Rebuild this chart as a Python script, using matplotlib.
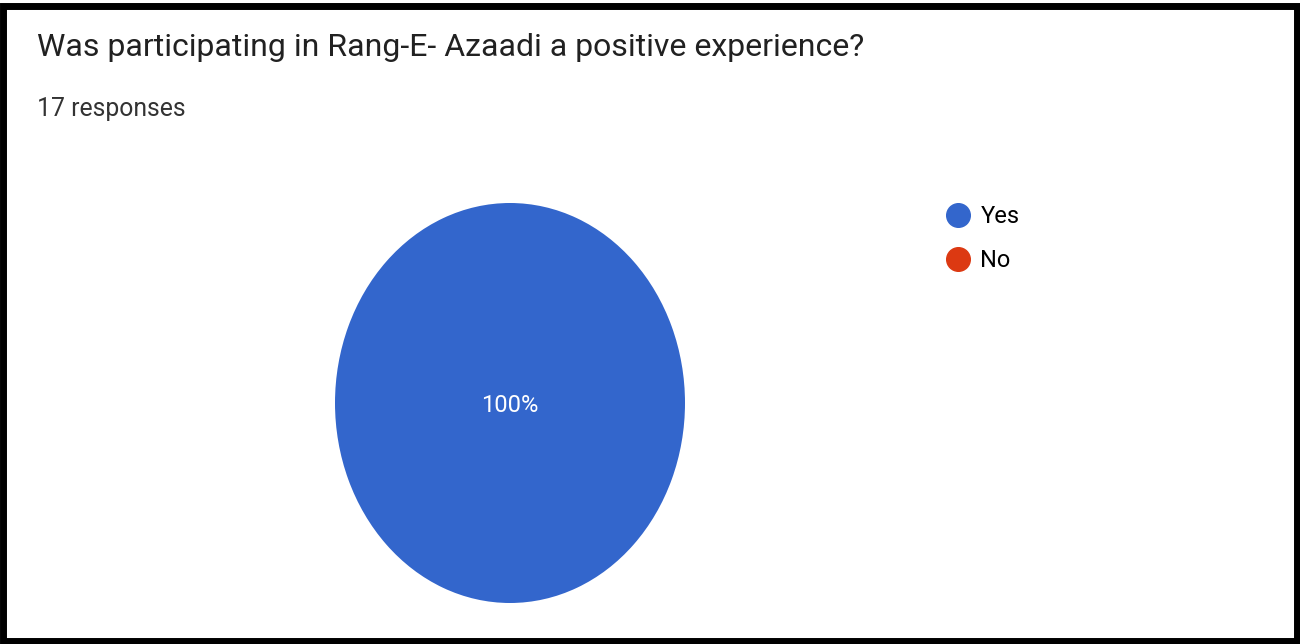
import matplotlib
matplotlib.use("Agg")
import matplotlib.pyplot as plt
from matplotlib.lines import Line2D
from matplotlib.patches import Rectangle

plt.rcParams['font.family'] = ['Roboto', 'DejaVu Sans']

title = "Was participating in Rang-E- Azaadi a positive experience?"
subtitle = "17 responses"
labels = ["Yes", "No"]
counts = [17, 0]
colors = ["#3366cc", "#dc3912"]

W, H = 1300, 644
fig = plt.figure(figsize=(W / 100, H / 100), dpi=100)
fig.patch.set_facecolor("white")

# pie axes (elliptical pie as in reference)
ax = fig.add_axes([335 / W, (H - 603) / H, 350 / W, 400 / H])

def fmt(p):
    return f"{p:.0f}%" if p > 0.5 else ""

wedges, texts, autotexts = ax.pie(counts, colors=colors, startangle=90,
                                  counterclock=False, autopct=fmt,
                                  pctdistance=0.0,
                                  textprops=dict(color="white", fontsize=17))
for t in autotexts:
    t.set_y(-0.01)
ax.set_aspect("auto")
ax.set_xlim(-1, 1)
ax.set_ylim(-1, 1)
ax.axis("off")

fig.text(37 / W, 1 - 47 / H, title, fontsize=23, color="#212121",
         va="center", ha="left")
fig.text(37 / W, 1 - 109 / H, subtitle, fontsize=17.8, color="#333333",
         va="center", ha="left")

handles = [Line2D([], [], marker="o", linestyle="none", markersize=17,
                  markerfacecolor=c, markeredgecolor=c) for c in colors]
fig.legend(handles, labels, loc="upper left",
           bbox_to_anchor=(940 / W, 1 - 205 / H), frameon=False,
           fontsize=17, handletextpad=0.21, labelspacing=0.88,
           handlelength=1.5, borderpad=0, borderaxespad=0)

# black frame
fig.add_artist(Rectangle((3 / W, 3 / H), 1 - 6 / W, 1 - 9 / H,
                         transform=fig.transFigure, fill=False,
                         edgecolor="black", linewidth=5))

fig.savefig("out.png", dpi=100, facecolor="white")
